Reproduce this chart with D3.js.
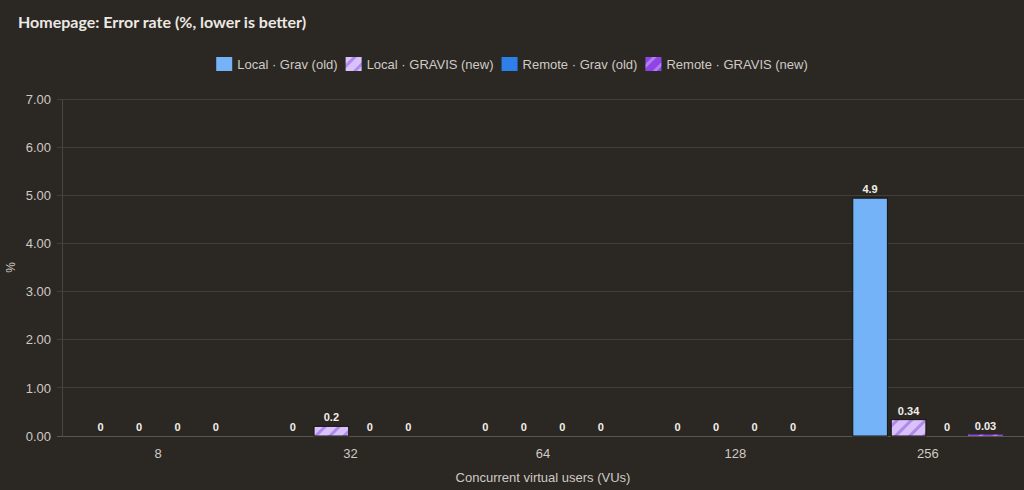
<!DOCTYPE html>
<html>
<head>
<meta charset="utf-8">
<script src="https://cdn.jsdelivr.net/npm/d3@7"></script>
<style>
  html, body { margin: 0; padding: 0; background: #2b2723; }
  svg { display: block; }
</style>
</head>
<body>
<div id="chart"></div>
<script>
const categories = ['8', '32', '64', '128', '256'];
const seriesNames = ['Local · Grav (old)', 'Local · GRAVIS (new)', 'Remote · Grav (old)', 'Remote · GRAVIS (new)'];
const localOld = [0, 0, 0, 0, 4.94];
const localNew = [0, 0.2, 0, 0, 0.34];
const remoteOld = [0, 0, 0, 0, 0];
const remoteNew = [0, 0, 0, 0, 0.03];
const yTicks = [0, 1, 2, 3, 4, 5, 6, 7];

const W = 1024, H = 490;
const M = { top: 99, right: 0, bottom: 54, left: 62 };

const seriesValues = [localOld, localNew, remoteOld, remoteNew];

const svg = d3.select('#chart')
    .append('svg')
    .attr('width', W)
    .attr('height', H);

svg.append('rect').attr('width', W).attr('height', H).attr('fill', '#2b2723');

// Patterns for the "new" series
const defs = svg.append('defs');
function hatch(id, bg, fg) {
    const p = defs.append('pattern')
        .attr('id', id)
        .attr('patternUnits', 'userSpaceOnUse')
        .attr('width', 10)
        .attr('height', 10)
        .attr('patternTransform', 'rotate(45)');
    p.append('rect').attr('width', 10).attr('height', 10).attr('fill', bg);
    p.append('rect').attr('x', 0).attr('width', 3).attr('height', 10).attr('fill', fg);
}
hatch('hatchLight', '#d9c2fc', '#b08ae8');
hatch('hatchDark', '#8e44e6', '#b27ef4');

const fills = ['#74b3f7', 'url(#hatchLight)', '#2d7fe9', 'url(#hatchDark)'];

// Scales
const x0 = d3.scaleBand()
    .domain(categories)
    .range([M.left, W - M.right]);

const x1 = d3.scaleBand()
    .domain(d3.range(seriesNames.length))
    .range([0, x0.bandwidth() * 0.8])
    .paddingInner(0.1)
    .paddingOuter(0.05);

const y = d3.scaleLinear()
    .domain([0, 7])
    .range([H - M.bottom, M.top]);

// Grid
svg.append('g')
    .selectAll('line')
    .data(yTicks)
    .enter()
    .append('line')
    .attr('x1', M.left - 5)
    .attr('x2', W - M.right)
    .attr('y1', d => y(d))
    .attr('y2', d => y(d))
    .attr('stroke', d => d === 0 ? '#5a554f' : '#433e39')
    .attr('stroke-width', 1)
    .attr('shape-rendering', 'crispEdges');

svg.append('line')
    .attr('x1', M.left).attr('x2', M.left)
    .attr('y1', M.top).attr('y2', H - M.bottom)
    .attr('stroke', '#4a4540')
    .attr('shape-rendering', 'crispEdges');

// Y axis
const yAxis = d3.axisLeft(y)
    .tickValues(yTicks)
    .tickFormat(d3.format('.2f'))
    .tickSize(0)
    .tickPadding(11);
svg.append('g')
    .attr('class', 'y-axis')
    .attr('transform', `translate(${M.left}, 0)`)
    .call(yAxis)
    .call(g => g.select('.domain').remove())
    .selectAll('text')
    .attr('fill', '#cfcac4')
    .attr('font-family', 'Liberation Sans, Arial, sans-serif')
    .attr('font-size', 13);

// X axis
const xAxis = d3.axisBottom(x0).tickSize(0).tickPadding(13);
svg.append('g')
    .attr('class', 'x-axis')
    .attr('transform', `translate(0, ${H - M.bottom})`)
    .call(xAxis)
    .call(g => g.select('.domain').remove())
    .selectAll('text')
    .attr('fill', '#cfcac4')
    .attr('font-family', 'Liberation Sans, Arial, sans-serif')
    .attr('font-size', 13);

// Bars
const rows = [];
categories.forEach((c, i) => {
    seriesValues.forEach((vals, s) => {
        rows.push({ cat: c, s: s, v: vals[i] });
    });
});

const barOffset = x0.bandwidth() * 0.1;

svg.append('g')
    .selectAll('rect')
    .data(rows.filter(d => d.v > 0))
    .enter()
    .append('rect')
    .attr('x', d => x0(d.cat) + barOffset + x1(d.s))
    .attr('y', d => y(d.v))
    .attr('width', x1.bandwidth())
    .attr('height', d => y(0) - y(d.v))
    .attr('fill', d => fills[d.s])
    .attr('stroke', d => d.v < 0.1 ? 'none' : '#15120f')
    .attr('stroke-width', 1);

// Value labels
svg.append('g')
    .selectAll('text')
    .data(rows)
    .enter()
    .append('text')
    .attr('x', d => x0(d.cat) + barOffset + x1(d.s) + x1.bandwidth() / 2)
    .attr('y', d => y(d.v) - 5)
    .attr('text-anchor', 'middle')
    .attr('fill', '#f2efea')
    .attr('font-family', 'Liberation Sans, Arial, sans-serif')
    .attr('font-weight', 'bold')
    .attr('font-size', 11)
    .text(d => d.v === 0 ? '0' : d3.format('.2~r')(d.v));

// Axis titles
svg.append('text')
    .attr('x', (M.left + W - M.right) / 2)
    .attr('y', 482)
    .attr('text-anchor', 'middle')
    .attr('fill', '#cfcac4')
    .attr('font-family', 'Liberation Sans, Arial, sans-serif')
    .attr('font-size', 13)
    .text('Concurrent virtual users (VUs)');

svg.append('text')
    .attr('transform', `translate(15, ${(M.top + H - M.bottom) / 2}) rotate(-90)`)
    .attr('text-anchor', 'middle')
    .attr('fill', '#cfcac4')
    .attr('font-family', 'Liberation Sans, Arial, sans-serif')
    .attr('font-size', 12)
    .text('%');

// Title
svg.append('text')
    .attr('x', 18)
    .attr('y', 28)
    .attr('fill', '#ece8e3')
    .attr('font-family', 'Lato, Noto Sans, sans-serif')
    .attr('font-weight', 'bold')
    .attr('font-size', 16)
    .text('Homepage: Error rate (%, lower is better)');

// Legend
const legend = svg.append('g').attr('transform', 'translate(0, 64)');
const items = legend.selectAll('g')
    .data(seriesNames)
    .enter()
    .append('g');
items.append('rect')
    .attr('y', -7)
    .attr('width', 16)
    .attr('height', 14)
    .attr('fill', (d, i) => fills[i]);
items.append('text')
    .attr('x', 21)
    .attr('y', 5)
    .attr('fill', '#cfcac4')
    .attr('font-family', 'Liberation Sans, Arial, sans-serif')
    .attr('font-size', 13)
    .text(d => d);

let widths = [];
items.each(function () { widths.push(this.getBBox().width); });
const gap = 8;
const total = d3.sum(widths) + gap * (widths.length - 1);
let cx = (W - total) / 2;
items.attr('transform', (d, i) => {
    const t = `translate(${cx}, 0)`;
    cx += widths[i] + gap;
    return t;
});
</script>
</body>
</html>
